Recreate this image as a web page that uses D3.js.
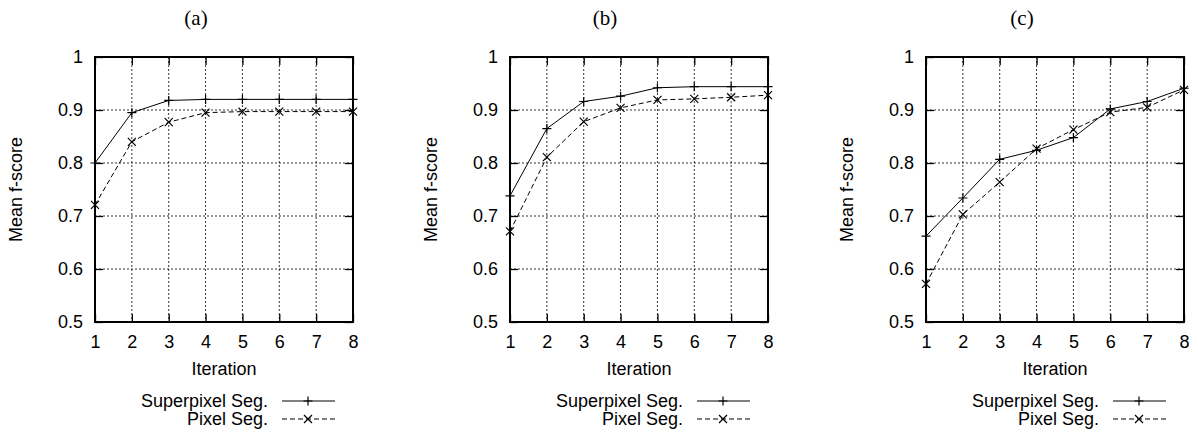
<!DOCTYPE html>
<html>
<head>
<meta charset="utf-8">
<script src="https://cdn.jsdelivr.net/npm/d3@7"></script>
<style>
  body { margin: 0; background: #fff; }
  svg { display: block; }
</style>
</head>
<body>
<div id="chart"></div>
<script>
// data
const iterations = [1, 2, 3, 4, 5, 6, 7, 8];
const yTicks = [0.5, 0.6, 0.7, 0.8, 0.9, 1];
const panelTitles = ["(a)", "(b)", "(c)"];
const seriesNames = ["Superpixel Seg.", "Pixel Seg."];

const superpixelA = [0.800, 0.895, 0.918, 0.920, 0.920, 0.920, 0.920, 0.920];
const pixelA      = [0.721, 0.840, 0.877, 0.895, 0.897, 0.897, 0.897, 0.897];
const superpixelB = [0.738, 0.865, 0.916, 0.926, 0.942, 0.944, 0.944, 0.944];
const pixelB      = [0.671, 0.811, 0.878, 0.904, 0.919, 0.921, 0.924, 0.928];
const superpixelC = [0.662, 0.734, 0.807, 0.824, 0.848, 0.902, 0.916, 0.941];
const pixelC      = [0.572, 0.703, 0.764, 0.827, 0.863, 0.896, 0.905, 0.938];

const W = 1198, H = 436;
const plotTop = 57, plotH = 265, plotW = 258;
const panels = [
  { left: 95,  titleX: 196,  sp: superpixelA, px: pixelA },
  { left: 510, titleX: 605,  sp: superpixelB, px: pixelB },
  { left: 926, titleX: 1022, sp: superpixelC, px: pixelC }
];

const sans = "'Liberation Sans', Arial, Helvetica, sans-serif";

const svg = d3.select("#chart")
  .append("svg")
  .attr("width", W)
  .attr("height", H)
  .attr("viewBox", `0 0 ${W} ${H}`);

const x = d3.scaleLinear().domain([1, 8]).range([0, plotW]);
const y = d3.scaleLinear().domain([0.5, 1]).range([plotH, 0]);

function plus(sel, s) {
  return sel.attr("d", `M${-s},0H${s}M0,${-s}V${s}`);
}
function cross(sel, s) {
  return sel.attr("d", `M${-s},${-s}L${s},${s}M${-s},${s}L${s},${-s}`);
}

panels.forEach((p, i) => {
  // title
  svg.append("text")
    .attr("x", p.titleX)
    .attr("y", 25)
    .attr("text-anchor", "middle")
    .style("font-family", "'Liberation Serif', 'Times New Roman', serif")
    .style("font-size", "21px")
    .text(panelTitles[i]);

  const g = svg.append("g")
    .attr("transform", `translate(${p.left},${plotTop})`);

  // grid
  g.append("g")
    .selectAll("line")
    .data(iterations.slice(1, -1))
    .join("line")
    .attr("x1", d => x(d)).attr("x2", d => x(d))
    .attr("y1", 0).attr("y2", plotH)
    .attr("stroke", "#000")
    .attr("stroke-width", 0.8)
    .attr("stroke-dasharray", "2,2");

  g.append("g")
    .selectAll("line")
    .data(yTicks.slice(1, -1))
    .join("line")
    .attr("x1", 0).attr("x2", plotW)
    .attr("y1", d => y(d)).attr("y2", d => y(d))
    .attr("stroke", "#000")
    .attr("stroke-width", 0.8)
    .attr("stroke-dasharray", "2,2");

  // axes, ticks pointing inward
  const styleAxis = a => {
    a.select(".domain").remove();
    a.selectAll("line").attr("stroke-width", 1.3);
    a.attr("font-family", sans).attr("font-size", 18);
  };

  g.append("g")
    .attr("transform", `translate(0,${plotH})`)
    .call(d3.axisBottom(x).tickValues(iterations).tickSizeInner(-8).tickSizeOuter(0).tickPadding(13).tickFormat(d3.format("d")))
    .call(styleAxis);

  g.append("g")
    .call(d3.axisTop(x).tickValues(iterations).tickSizeInner(-8).tickSizeOuter(0).tickFormat(""))
    .call(styleAxis);

  g.append("g")
    .call(d3.axisLeft(y).tickValues(yTicks).tickSizeInner(-8).tickSizeOuter(0).tickPadding(12).tickFormat(d3.format("~g")))
    .call(styleAxis);

  g.append("g")
    .attr("transform", `translate(${plotW},0)`)
    .call(d3.axisRight(y).tickValues(yTicks).tickSizeInner(-8).tickSizeOuter(0).tickFormat(""))
    .call(styleAxis);

  // border
  g.append("rect")
    .attr("width", plotW)
    .attr("height", plotH)
    .attr("fill", "none")
    .attr("stroke", "#000")
    .attr("stroke-width", 2);

  // axis labels
  g.append("text")
    .attr("transform", "rotate(-90)")
    .attr("x", -plotH / 2)
    .attr("y", -79)
    .attr("text-anchor", "middle")
    .attr("dominant-baseline", "central")
    .style("font-family", sans)
    .style("font-size", "18px")
    .text("Mean f-score");

  g.append("text")
    .attr("x", plotW / 2)
    .attr("y", plotH + 53)
    .attr("text-anchor", "middle")
    .style("font-family", sans)
    .style("font-size", "18px")
    .text("Iteration");

  // lines
  const line = d3.line()
    .x((d, k) => x(iterations[k]))
    .y(d => y(d));

  g.append("path")
    .datum(p.sp)
    .attr("fill", "none")
    .attr("stroke", "#000")
    .attr("stroke-width", 1)
    .attr("d", line);

  g.append("path")
    .datum(p.px)
    .attr("fill", "none")
    .attr("stroke", "#000")
    .attr("stroke-width", 1)
    .attr("stroke-dasharray", "5,3")
    .attr("d", line);

  // points
  g.append("g")
    .selectAll("path")
    .data(p.sp)
    .join("path")
    .attr("transform", (d, k) => `translate(${x(iterations[k])},${y(d)})`)
    .attr("stroke", "#000")
    .attr("stroke-width", 1.2)
    .call(plus, 4.5);

  g.append("g")
    .selectAll("path")
    .data(p.px)
    .join("path")
    .attr("transform", (d, k) => `translate(${x(iterations[k])},${y(d)})`)
    .attr("stroke", "#000")
    .attr("stroke-width", 1.2)
    .call(cross, 4);

  // legend
  const legend = g.append("g")
    .attr("transform", `translate(0,${plotH})`);

  seriesNames.forEach((name, k) => {
    const ly = 79 + k * 18;
    legend.append("text")
      .attr("x", 173)
      .attr("y", ly)
      .attr("text-anchor", "end")
      .attr("dominant-baseline", "central")
      .style("font-family", sans)
      .style("font-size", "18px")
      .text(name);

    legend.append("line")
      .attr("x1", 187).attr("x2", 240)
      .attr("y1", ly).attr("y2", ly)
      .attr("stroke", "#000")
      .attr("stroke-width", 1)
      .attr("stroke-dasharray", k === 0 ? null : "5,3");

    legend.append("path")
      .attr("transform", `translate(213,${ly})`)
      .attr("stroke", "#000")
      .attr("stroke-width", 1.2)
      .call(k === 0 ? plus : cross, k === 0 ? 4.5 : 4);
  });
});
</script>
</body>
</html>
